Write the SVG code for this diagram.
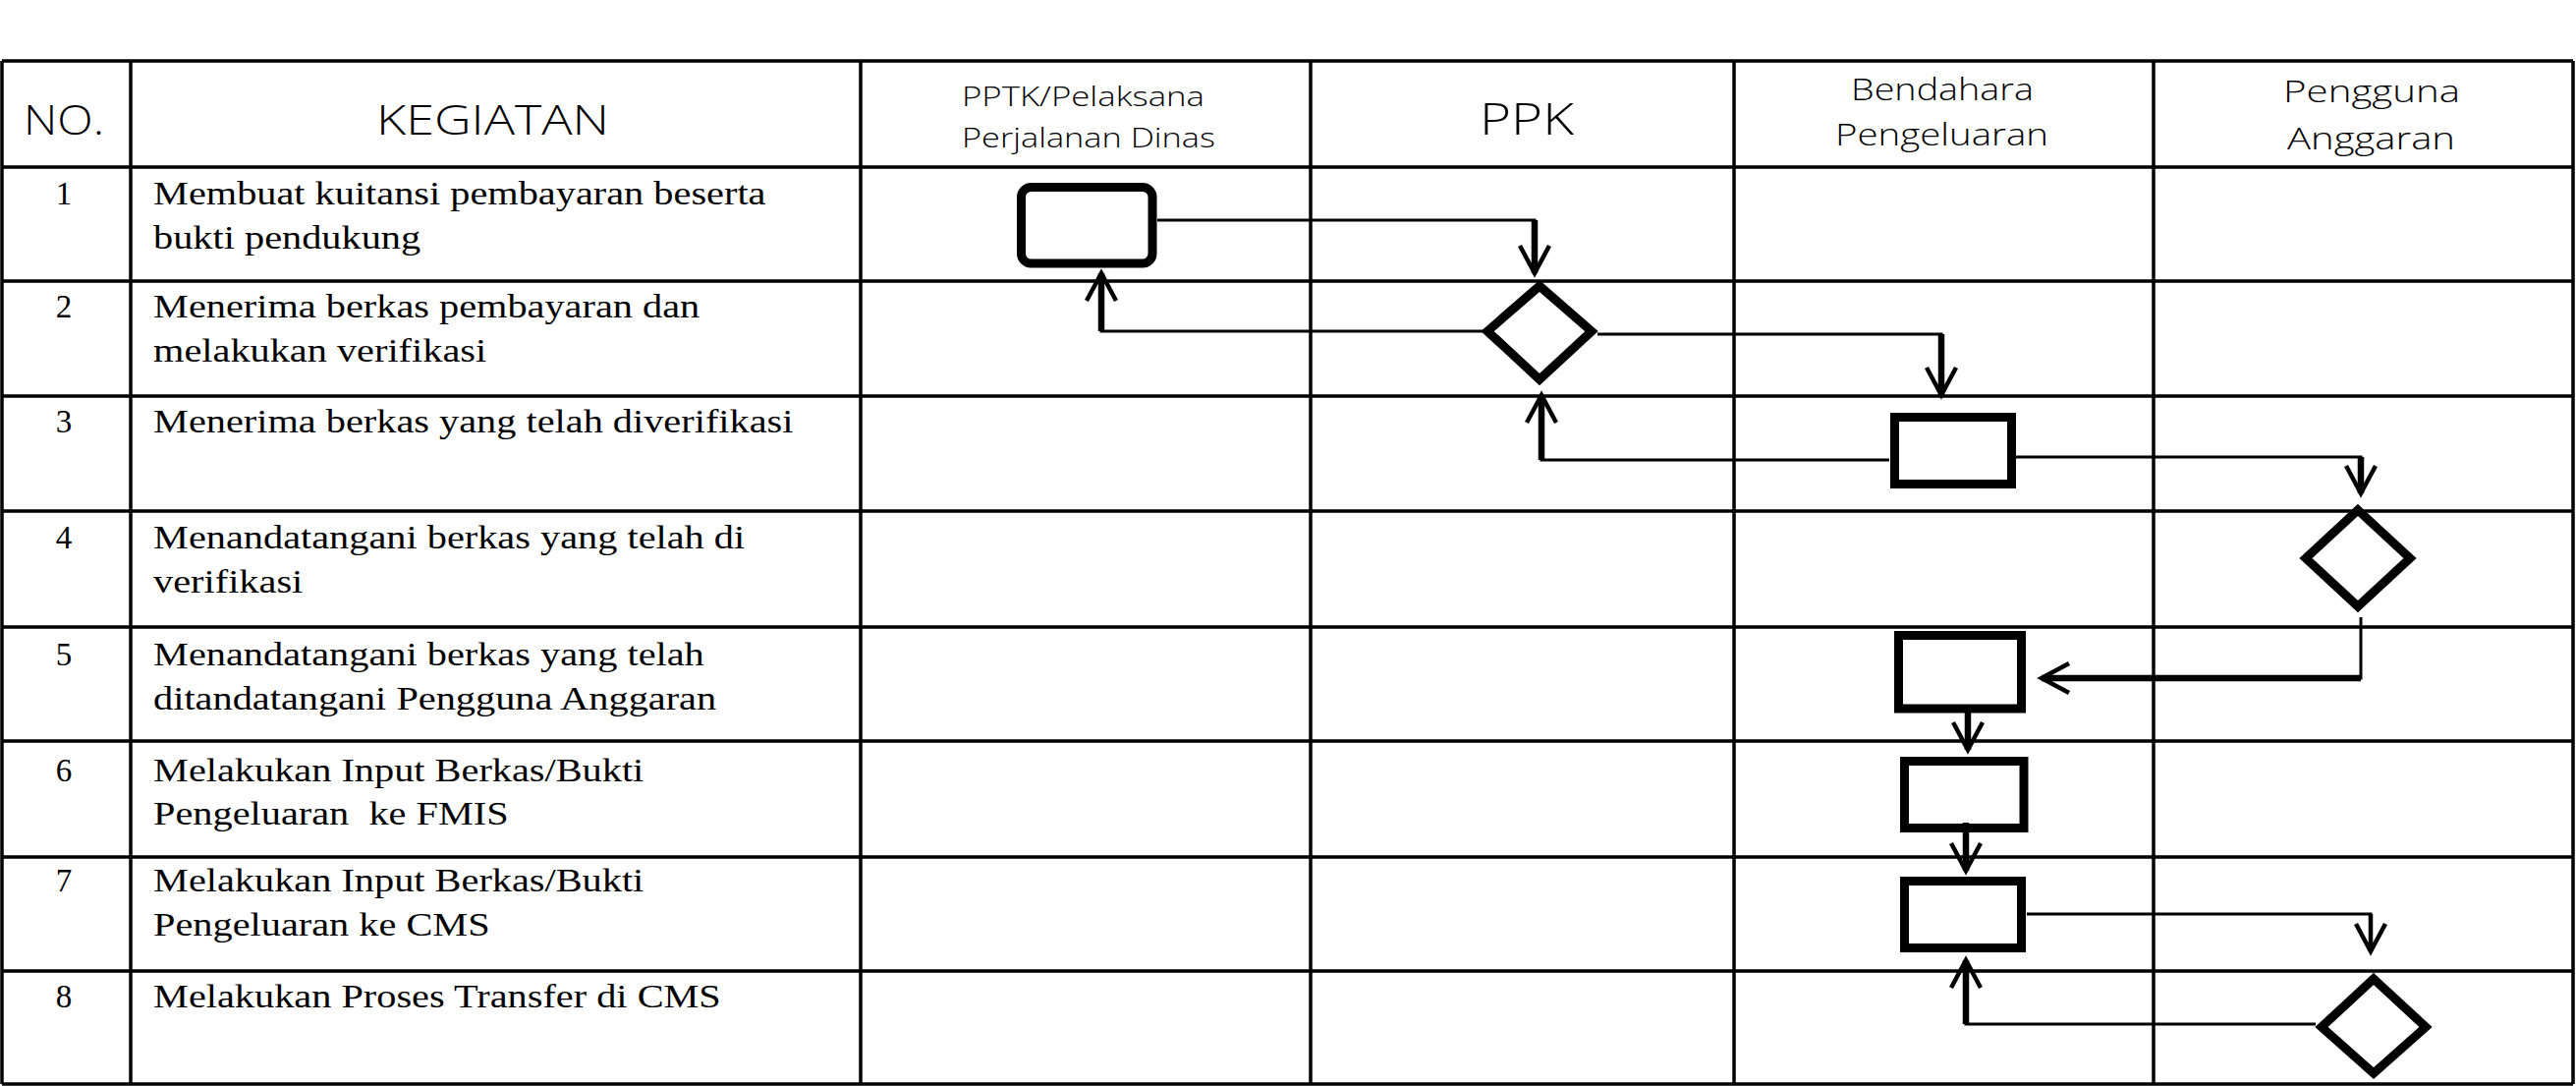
<svg xmlns="http://www.w3.org/2000/svg" width="2622" height="1105" viewBox="0 0 2622 1105">
<style>
.grid{fill:none;stroke:#000;stroke-width:3.5}
.hd{font-family:"Open Sans","DejaVu Sans",sans-serif;font-weight:300;fill:#000}
.bd{font-family:"Liberation Serif","Times New Roman",serif;font-size:33px;fill:#000}
.num{font-family:"Liberation Serif","Times New Roman",serif;font-size:33px;fill:#000;text-anchor:middle}
.shape{fill:none;stroke:#000;stroke-width:9;stroke-linejoin:miter}
.thin{fill:none;stroke:#000;stroke-width:3}
.thick{fill:none;stroke:#000;stroke-width:6.5;marker-end:url(#ah)}
</style>
<defs>
<marker id="ah" markerUnits="userSpaceOnUse" viewBox="-40 -20 50 40" markerWidth="50" markerHeight="40" refX="0" refY="0" orient="auto" overflow="visible">
<path d="M-28,-15 L0,0 L-28,15" fill="none" stroke="#000" stroke-width="4.5" stroke-linejoin="miter"/>
</marker>
</defs>
<rect width="2622" height="1105" fill="#fff"/>
<g id="table">
<path class="grid" d="M2,62H2619M2,170H2619M2,286H2619M2,403H2619M2,520H2619M2,638H2619M2,754H2619M2,872H2619M2,988H2619M2,1103H2619M2,62V1103M133,62V1103M876,62V1103M1334,62V1103M1765,62V1103M2192,62V1103M2619,62V1103"/>
</g>
<g id="header">
<text class="hd" x="24" y="137" font-size="42" textLength="82" lengthAdjust="spacingAndGlyphs">NO.</text>
<text class="hd" x="383" y="137" font-size="42" textLength="237" lengthAdjust="spacingAndGlyphs">KEGIATAN</text>
<text class="hd" x="979" y="108" font-size="28" textLength="247" lengthAdjust="spacingAndGlyphs">PPTK/Pelaksana</text>
<text class="hd" x="979" y="150" font-size="28" textLength="258" lengthAdjust="spacingAndGlyphs">Perjalanan Dinas</text>
<text class="hd" x="1506" y="137" font-size="45" textLength="96" lengthAdjust="spacingAndGlyphs">PPK</text>
<text class="hd" x="1884" y="102" font-size="31" textLength="186" lengthAdjust="spacingAndGlyphs">Bendahara</text>
<text class="hd" x="1868" y="148" font-size="31" textLength="217" lengthAdjust="spacingAndGlyphs">Pengeluaran</text>
<text class="hd" x="2324" y="104" font-size="31" textLength="180" lengthAdjust="spacingAndGlyphs">Pengguna</text>
<text class="hd" x="2328" y="152" font-size="31" textLength="171" lengthAdjust="spacingAndGlyphs">Anggaran</text>
</g>
<g id="numbers">
<text class="num" x="65" y="208">1</text>
<text class="num" x="65" y="323">2</text>
<text class="num" x="65" y="440">3</text>
<text class="num" x="65" y="558">4</text>
<text class="num" x="65" y="677">5</text>
<text class="num" x="65" y="795">6</text>
<text class="num" x="65" y="907">7</text>
<text class="num" x="65" y="1025">8</text>
</g>
<g id="activities" transform="scale(1.222 1)">
<text class="bd" x="127.7" y="208">Membuat kuitansi pembayaran beserta</text>
<text class="bd" x="127.7" y="253">bukti pendukung</text>
<text class="bd" x="127.7" y="323">Menerima berkas pembayaran dan</text>
<text class="bd" x="127.7" y="368">melakukan verifikasi</text>
<text class="bd" x="127.7" y="440">Menerima berkas yang telah diverifikasi</text>
<text class="bd" x="127.7" y="558">Menandatangani berkas yang telah di</text>
<text class="bd" x="127.7" y="603">verifikasi</text>
<text class="bd" x="127.7" y="677">Menandatangani berkas yang telah</text>
<text class="bd" x="127.7" y="722">ditandatangani Pengguna Anggaran</text>
<text class="bd" x="127.7" y="795">Melakukan Input Berkas/Bukti</text>
<text class="bd" x="127.7" y="839" xml:space="preserve">Pengeluaran  ke FMIS</text>
<text class="bd" x="127.7" y="907">Melakukan Input Berkas/Bukti</text>
<text class="bd" x="127.7" y="952">Pengeluaran ke CMS</text>
<text class="bd" x="127.7" y="1025">Melakukan Proses Transfer di CMS</text>
</g>
<g id="n1"><rect class="shape" x="1039.5" y="190.5" width="133.5" height="77.5" rx="10"/></g>
<g id="n2"><polygon class="shape" points="1567,291 1620,337 1567,386 1514,337"/></g>
<g id="n3"><rect class="shape" x="1928.5" y="424.5" width="119" height="68"/></g>
<g id="n4"><polygon class="shape" points="2400,519 2453,568 2400,617 2347,568"/></g>
<g id="n5"><rect class="shape" x="1932.5" y="646.5" width="125" height="74.5"/></g>
<g id="n6"><rect class="shape" x="1938.5" y="774.5" width="121.5" height="68"/></g>
<g id="n7"><rect class="shape" x="1938.5" y="896.5" width="119" height="68"/></g>
<g id="n8"><polygon class="shape" points="2416,996 2469,1045 2416,1092 2363,1045"/></g>
<g id="connectors">
<path class="thin" d="M1178,224H1563.5"/>
<path class="thick" d="M1562,224V278"/>
<path class="thin" d="M1509,337H1119.5"/>
<path class="thick" d="M1121,337V278"/>
<path class="thin" d="M1626,340H1977.5"/>
<path class="thick" d="M1976,340V402"/>
<path class="thin" d="M1923,468H1567.5"/>
<path class="thick" d="M1569,468V402"/>
<path class="thin" d="M2052,465H2404.5"/>
<path class="thick" d="M2403,465V502"/>
<path class="thin" d="M2403,628V691.5"/>
<path class="thick" d="M2403,690H2078"/>
<path class="thick" d="M2003,725V763"/>
<path class="thick" d="M2001,837V886"/>
<path class="thin" d="M2063,930H2414.5"/>
<path class="thick" d="M2413,930V968" style="stroke-width:4.5"/>
<path class="thin" d="M2357,1042H1999.5"/>
<path class="thick" d="M2001,1042V977"/>
</g>
</svg>
